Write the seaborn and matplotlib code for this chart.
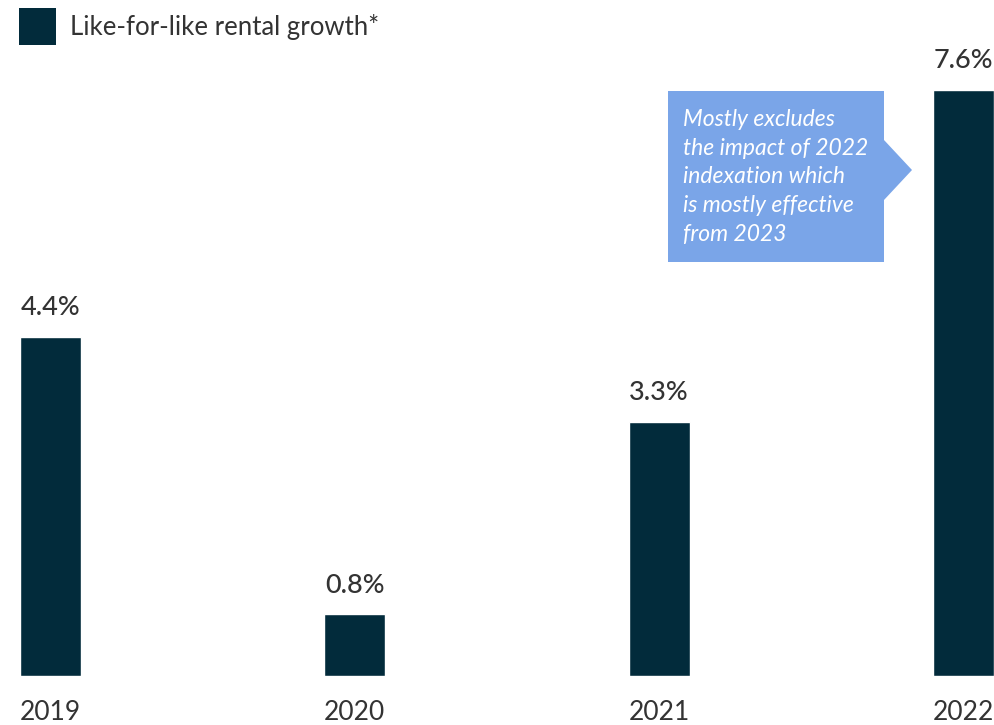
import matplotlib
matplotlib.use("Agg")
import matplotlib.pyplot as plt
import seaborn as sns
import pandas as pd
from matplotlib.patches import Polygon, Rectangle

# chart values
years = ["2019", "2020", "2021", "2022"]
growth = [4.4, 0.8, 3.3, 7.6]
series_name = "Like-for-like rental growth*"
note = ("Mostly excludes\nthe impact of 2022\nindexation which\n"
        "is mostly effective\nfrom 2023")

bar_color = "#022b3b"
note_color = "#7aa5e8"
text_color = "#333333"

df = pd.DataFrame({"year": years, "growth": growth})

sns.set_style("white")
plt.rcParams["font.family"] = ["Lato", "DejaVu Sans"]

W, H = 994, 725
fig = plt.figure(figsize=(W / 100, H / 100), dpi=100)
ax = fig.add_axes([0, 1 - 676 / H, 1, 676 / H])

sns.barplot(data=df, x="year", y="growth", order=years, color=bar_color,
            saturation=1, width=0.2, ax=ax)

ax.set_xlim(-0.1 - 20 / 304.7, 3.1)
ax.set_ylim(0, 676 / 77.1)
sns.despine(ax=ax, left=True, bottom=True)
ax.set_yticks([])
ax.set_xlabel("")
ax.set_ylabel("")
ax.tick_params(axis="x", length=0, pad=17, labelsize=19, labelcolor=text_color)

for i, v in enumerate(growth):
    ax.annotate(f"{v:.1f}%", (i, v), xytext=(0, 12), textcoords="offset points",
                ha="center", va="bottom", fontsize=19.5, fontweight="medium",
                color=text_color)


def px(x, y):
    return (x / W, 1 - y / H)


# legend: square swatch + label
fig.patches.append(Rectangle(px(19, 45), 37 / W, 37 / H, transform=fig.transFigure,
                             facecolor=bar_color, edgecolor="none"))
fig.text(70 / W, 1 - 27 / H, series_name, ha="left", va="center",
         fontsize=18.5, color=text_color)

# callout box with arrow pointing at the 2022 bar
pts = [px(668, 91), px(884, 91), px(884, 140), px(912, 170),
       px(884, 200), px(884, 262), px(668, 262)]
fig.patches.append(Polygon(pts, closed=True, transform=fig.transFigure,
                           facecolor=note_color, edgecolor="none"))
fig.text(683 / W, 1 - 109 / H, note, ha="left", va="top", fontsize=16.5,
         style="italic", color="white", linespacing=1.45)

fig.savefig("out.png", dpi=100)
